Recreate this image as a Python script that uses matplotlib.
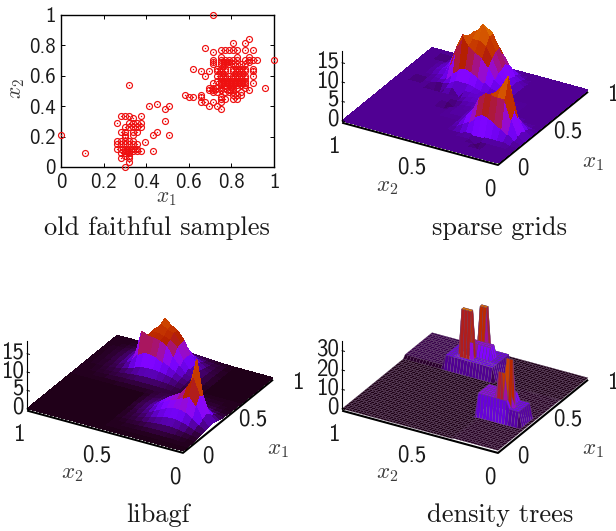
import numpy as np
import matplotlib
matplotlib.use("Agg")
import matplotlib.pyplot as plt
from mpl_toolkits.mplot3d import proj3d

plt.rcParams['mathtext.fontset'] = 'cm'

# ---------- data: scatter rows (x2 value, x1 values) ----------
LOWER_ROWS = [
    (.338, [.281, .301, .320, .376]), (.322, [.339]),
    (.292, [.262, .320, .339, .357, .376]), (.261, [.301, .320, .339, .357, .376]),
    (.228, [.281, .301, .339, .357]), (.213, [.301, .339]), (.197, [.301]),
    (.169, [.262, .281, .301, .320, .339]), (.151, [.262, .281, .301, .320, .339, .357]),
    (.121, [.262, .281, .301, .320, .339, .357]), (.105, [.301, .320, .339, .357, .376]),
    (.090, [.281, .301, .320]), (.075, [.301, .320]), (.057, [.281, .320]), (.031, [.320]),
    (.000, [.301]),
]
UPPER_ROWS = [
    (1.0, [.714]), (.844, [.883]), (.816, [.808, .864]), (.783, [.677]),
    (.768, [.752, .771, .789, .808, .827, .864, .902]), (.754, [.714]),
    (.721, [.752, .827, .883]), (.706, [.714, .752, .771, .789, .808, .827, .864, .883, .902, .920, .998]),
    (.691, [.714, .752, .771, .789, .883]), (.675, [.714, .752, .771, .789, .808, .827, .846, .864]),
    (.645, [.621, .733, .752, .771, .808, .827, .846, .864, .902]),
    (.629, [.658, .696, .733, .752, .771, .808, .827, .846, .864, .902]),
    (.599, [.677, .733, .752, .771, .789, .808, .827, .846, .864, .902]),
    (.583, [.752, .771, .808, .827, .846, .864]),
    (.568, [.733, .752, .771, .789, .808, .827, .846, .864]),
    (.553, [.714, .752, .771, .789, .808, .827, .846, .864, .902]),
    (.537, [.752, .771, .789, .808, .827, .846, .864]),
    (.522, [.696, .714, .733, .752, .771, .808, .827, .864, .958]),
    (.507, [.696, .714, .752, .789, .808, .883]),
    (.491, [.714, .733, .771, .789, .808, .846]),
    (.476, [.583, .658, .808, .827, .846]), (.461, [.602, .621, .658, .752]),
    (.445, [.752, .771, .808, .827]), (.430, [.658, .677, .714, .752]),
    (.399, [.696, .733]), (.384, [.752]),
]
ISOLATED_X1 = [.000, .112, .320, .414, .451, .489, .508, .489, .433, .451, .508, .395, .433]
ISOLATED_X2 = [.213, .090, .537, .399, .412, .384, .399, .305, .213, .228, .213, .167, .105]

SCATTER_TICKS = [0, .2, .4, .6, .8, 1]
SCATTER_TICK_LABELS = ['0', '0.2', '0.4', '0.6', '0.8', '1']
TITLES = ['old faithful samples', 'sparse grids', 'libagf', 'density trees']

# ---------- data: surfaces on a 0.04 grid (rows x1, columns x2) ----------
SG_PEAK1 = [  # x1 .60-.96, x2 .36-.84
    [0, 0, .5, .5, 1, 1, 1, 1, .5, .5, 0, 0, 0],
    [0, .5, 1, 1, 1.5, 2, 2, 2, 1, .5, .5, 0, 0],
    [.5, 1, 1.5, 2.5, 3.5, 4.5, 5, 4.5, 3, 1, .5, .5, 0],
    [1, 1.5, 3, 6, 8, 9, 10, 12.5, 9, 4, 1, .5, 0],
    [1, 2, 4, 7.5, 10, 11, 11, 11.5, 10, 6, 2, 1, .5],
    [1, 2, 4.5, 8.5, 12, 14.5, 12, 11, 10, 6.5, 3, 1, .5],
    [1, 2, 5, 8.5, 12, 13, 12, 11, 9, 5.5, 3, 1, .5],
    [.5, 1.5, 4, 6.5, 9, 10, 9, 8, 6, 4, 2, 1, 0],
    [0, 1, 2, 3, 4.5, 5, 5, 4.5, 3, 2, 1, 0, 0],
    [0, 0, .5, 1, 1, 2, 2, 2, 1, .5, 0, 0, 0],
]
SG_PEAK2 = [  # x1 .16-.48, x2 0-.40
    [0, 0, 0, 0, 0, 0, 0, 0, 0, 0, 0],
    [0, 0, .5, .5, .5, .5, .5, .5, .5, 0, 0],
    [0, .5, 2, 3, 4, 5, 5.5, 4.5, 2.5, 1.5, .5],
    [0, 1, 5, 10, 10, 10, 10, 8.5, 5, 3, 1],
    [0, 1.5, 7, 15, 12, 10, 9, 7.5, 5, 3, 1],
    [0, 1, 4, 10, 9, 7, 6, 4.5, 3, 2, 1],
    [0, .5, 2, 3, 4, 3, 2, 2, 2, 1, 1],
    [0, 0, .5, 1, 1, 2, 1, 1, 1, 1, .5],
    [0, 0, 0, 0, 1, 1, 1, 1, 1, .5, 0],
]
SG_MID = [  # x1 .36-.64, x2 .24-.52: faint ridge between the two modes
    [.5, .5, .5, .3, .2, .2, .2, .2],
    [.8, .8, .8, .5, .3, .2, .2, .2],
    [.8, 1, 1, .8, .5, .3, .2, .2],
    [.5, .8, 1, 1, .8, .5, .3, .2],
    [.3, .5, .8, 1, 1, .8, .5, .5],
    [.2, .3, .5, .8, 1, 1, 1, .8],
    [.2, .2, .3, .5, .8, 1, 1, 1],
    [.2, .2, .2, .3, .5, 1, 1, 1],
]
SG_DIPS_X1 = [.64, .60, .60, .48, .12, .60, .44, .16, .92]
SG_DIPS_X2 = [.88, .76, .60, .56, .20, .72, .60, .24, .88]
SG_DIPS_Z = [-1.4, -1.4, -1.2, -1.2, -1.2, -1.2, -1.0, -1.0, -1.2]

LA_PEAK1 = [  # x1 .52-1, x2 .28-.96
    [.1, .1, .2, .2, .3, .3, .3, .3, .3, .3, .3, .2, .2, .2, .1, .1, .1, .1],
    [.2, .2, .3, .4, .5, .6, .6, .6, .6, .6, .5, .5, .4, .3, .2, .2, .1, .1],
    [.2, .3, .5, .7, 1, 1.2, 1.3, 1.3, 1.3, 1.2, 1, .8, .6, .4, .3, .2, .1, .1],
    [.3, .4, .7, 1.2, 1.8, 2.2, 2.6, 2.8, 2.8, 2.6, 2, 1.4, .9, .6, .4, .2, .2, .1],
    [.3, .5, 1, 1.6, 2.6, 3.6, 4.5, 5.5, 6, 6, 5, 2.8, 1.5, .9, .5, .3, .2, .1],
    [.4, .6, 1.1, 2, 3.6, 5.5, 8, 9, 9.5, 9.5, 10.5, 4, 1.9, 1, .6, .3, .2, .1],
    [.4, .7, 1.2, 2.4, 4.5, 7.5, 9, 9.5, 10, 10, 8, 4, 2, 1.1, .7, .4, .2, .1],
    [.4, .7, 1.3, 2.6, 4.8, 8, 10, 10.5, 11.5, 10, 7.5, 3.8, 2, 1.1, .7, .4, .2, .1],
    [.4, .6, 1.2, 2.4, 4.5, 8, 10, 11, 12.5, 9.5, 7, 3.5, 1.9, 1, .6, .3, .2, .1],
    [.3, .5, .9, 1.8, 3.2, 5, 6.5, 7.5, 7.5, 6.5, 4.5, 2.5, 1.4, .8, .5, .3, .2, .1],
    [.2, .4, .6, 1.1, 1.8, 2.6, 3.2, 3.6, 3.6, 3.2, 2.3, 1.4, .8, .5, .3, .2, .1, .1],
    [.2, .3, .4, .6, .9, 1.2, 1.5, 1.6, 1.6, 1.4, 1.1, .7, .5, .3, .2, .1, .1, .1],
    [.1, .1, .2, .3, .4, .5, .6, .7, .7, .6, .5, .4, .3, .2, .1, .1, .1, .1],
]
LA_PEAK2 = [  # x1 .08-.60, x2 0-.48
    [.1, .1, .1, .2, .2, .2, .2, .2, .2, .1, .1, .1, .1],
    [.1, .2, .3, .4, .5, .5, .5, .5, .4, .3, .2, .2, .1],
    [.2, .4, .7, 1, 1.2, 1.3, 1.2, 1.1, .9, .6, .4, .3, .2],
    [.4, .9, 1.6, 2.2, 2.6, 2.6, 2.4, 2, 1.5, 1, .6, .4, .3],
    [.7, 1.6, 3, 4, 4.5, 4.5, 4, 3.2, 2.3, 1.4, .8, .5, .3],
    [1, 2.6, 6, 8, 7, 6, 5.5, 4.5, 3.2, 2, 1.1, .7, .4],
    [1.1, 3.2, 8, 12, 9, 7, 6, 5, 3.6, 2.2, 1.3, .8, .5],
    [.9, 2.6, 7, 16.5, 9, 6.5, 5, 4, 3, 2, 1.2, .8, .5],
    [.5, 1.4, 3, 6, 4.5, 3.5, 3, 2.6, 2.1, 1.5, 1, .7, .4],
    [.3, .7, 1.2, 1.8, 2.1, 2, 1.8, 1.6, 1.4, 1.1, .8, .6, .4],
    [.2, .3, .5, .8, .9, 1, 1, 1, .9, .8, .6, .5, .3],
    [.1, .2, .3, .4, .4, .5, .6, .6, .6, .6, .5, .4, .3],
    [.1, .1, .2, .2, .3, .3, .4, .4, .4, .4, .4, .3, .3],
    [.1, .1, .1, .1, .2, .2, .2, .3, .3, .3, .3, .2, .2],
]
# density tree leaves, painted in order: x1 from, x1 to, x2 from, x2 to, density
DT_LO1 = [.69, .00, .69, .30, .30, .73, .82, .77, .33, .31]
DT_HI1 = [1.0, .69, .88, .43, .43, .77, .86, .82, .35, .33]
DT_LO2 = [.74, .00, .44, .10, .04, .60, .56, .50, .10, .14]
DT_HI2 = [1.0, .28, .74, .30, .10, .66, .60, .66, .14, .18]
DT_VAL = [1.5, .3, 7, 12, 8, 31, 30, 13, 32, 25]

TICKS_3D = [0, .5, 1]
TICK_LABELS_3D = ['0', '0.5', '1']
SG_ZTICKS = [0, 5, 10, 15]
LA_ZTICKS = [0, 5, 10, 15]
DT_ZTICKS = [0, 10, 20, 30]

W, H = 616, 531
fig = plt.figure(figsize=(W / 100, H / 100), dpi=100)
TICK_FS = 15
TICK3_FS = 16.5
TITLE_FS = 19
LABEL_FS = 16.5
TXT = '#1a1a1a'
LAB = '#3a3a3a'


def fx(px):
    return px / W


def fy(py):
    return 1 - py / H


# ---------- scatter ----------
ax = fig.add_axes([fx(61), fy(167), (274 - 61) / W, (167 - 15) / H])
sx = [x for y, xs in LOWER_ROWS + UPPER_ROWS for x in xs] + ISOLATED_X1
sy = [y for y, xs in LOWER_ROWS + UPPER_ROWS for x in xs] + ISOLATED_X2
ax.plot(sx, sy, 'o', ms=4.3, mfc='none', mec='#ee1010', mew=.85, clip_on=False, zorder=3)
ax.plot(sx, sy, 'o', ms=1.0, mfc='#ee1010', mec='none', clip_on=False, zorder=3)
ax.set_xlim(0, 1)
ax.set_ylim(0, 1)
ax.set_xticks(SCATTER_TICKS, SCATTER_TICK_LABELS, family='cmss10', fontsize=TICK_FS, color=TXT)
ax.set_yticks(SCATTER_TICKS, SCATTER_TICK_LABELS, family='cmss10', fontsize=TICK_FS, color=TXT)
ax.tick_params(direction='in', length=3, width=.7, top=True, right=True, pad=4)
for s in ax.spines.values():
    s.set_linewidth(1.0)
fig.text(fx(166), fy(198), r'$x_1$', fontsize=15.5, ha='center', va='center', color=LAB)
fig.text(fx(17), fy(88), r'$x_2$', fontsize=15.5, ha='center', va='center', rotation=90, color=LAB)
fig.text(fx(157), fy(228), TITLES[0], family='cmr10', fontsize=TITLE_FS, ha='center', va='center', color=TXT)

# ---------- surfaces ----------
grid = np.round(np.arange(26) * .04, 2)


def paint(Z, patch, x1start, x2start):
    patch = np.asarray(patch, float)
    i, j = int(round(x1start / .04)), int(round(x2start / .04))
    Z[i:i + patch.shape[0], j:j + patch.shape[1]] = np.maximum(Z[i:i + patch.shape[0], j:j + patch.shape[1]], patch)


Z_sg = np.zeros((26, 26))
paint(Z_sg, SG_MID, .36, .24)
paint(Z_sg, SG_PEAK1, .60, .36)
paint(Z_sg, SG_PEAK2, .16, 0)
for a, b, c in zip(SG_DIPS_X1, SG_DIPS_X2, SG_DIPS_Z):
    Z_sg[int(round(a / .04)), int(round(b / .04))] = c

Z_la = np.full((26, 26), .05)
paint(Z_la, LA_PEAK1, .52, .28)
paint(Z_la, LA_PEAK2, .08, 0)

grid_dt = np.round(np.arange(51) * .02, 2)
Z_dt = np.zeros((51, 51))
for a, b, c, d, v in zip(DT_LO1, DT_HI1, DT_LO2, DT_HI2, DT_VAL):
    Z_dt[np.ix_((grid_dt >= a) & (grid_dt <= b), (grid_dt >= c) & (grid_dt <= d))] = v


def panel(g, Z, front, zmax, aspect, vmin, vmax, zticks, title, tpos, edge=None, zb=-.5):
    ax = fig.add_axes([.0, .0, .5, .5], projection='3d', proj_type='ortho')
    ax.view_init(elev=28, azim=210)
    ax.set_box_aspect((1, 1, aspect))
    ax.set_xlim(0, 1)
    ax.set_ylim(0, 1)
    ax.set_zlim(0, zmax)
    ax.set_axis_off()
    ax.patch.set_alpha(0)
    ax.computed_zorder = False

    def px(x, y, z):
        ax.apply_aspect()
        a, b, _ = proj3d.proj_transform(x, y, z, ax.get_proj())
        return ax.transData.transform((a, b))

    # scale and place so the x1=x2=0 corner lands on the reference spot
    d = px(0, 1, 0) - px(0, 0, 0)
    s = abs(d[0]) / np.cos(np.radians(30))
    ax.set_box_aspect((1, 1, aspect), zoom=180 / s)
    p = px(0, 0, 0)
    pos = ax.get_position().bounds
    ax.set_position([pos[0] + (front[0] - p[0]) / W, pos[1] + ((H - front[1]) - p[1]) / H, pos[2], pos[3]])

    def label(x, y, z, text, **kw):
        q = px(x, y, z)
        fig.text(q[0] / W, q[1] / H, text, family='cmss10', fontsize=TICK3_FS, va='center', color=TXT, **kw)

    X, Y = np.meshgrid(g, g, indexing='ij')
    ax.plot([0, 0, 1], [1, 0, 0], [zb, zb, zb], color='black', lw=1.5, zorder=1, solid_capstyle='butt', clip_on=False)
    kw = dict(edgecolor=edge, linewidth=.2, antialiased=True) if edge else dict(linewidth=0, antialiased=False)
    surf = ax.plot_surface(X, Y, Z, rstride=1, cstride=1, cmap='gnuplot', vmin=vmin, vmax=vmax, shade=False, zorder=2, **kw)
    surf.set_clip_on(False)
    ax.plot([0, 0], [1, 1], [0, zmax], color='black', lw=.8, zorder=3, clip_on=False)
    for t in zticks:
        ax.plot([0, 0], [1, .985], [t, t], color='black', lw=.7, zorder=3, clip_on=False)
        label(0, 1.02, t, str(t), ha='right')
    for t, lab in zip(TICKS_3D, TICK_LABELS_3D):
        label(t + .012, -.15, 0, lab, ha='center')
        label(-.29, t - .116, 0, lab, ha='center')
    fig.text(fx(front[0] + 95), fy(front[1] - 2), r'$x_1$', fontsize=LABEL_FS, ha='center', va='center', color=LAB)
    fig.text(fx(front[0] - 111), fy(front[1] + 22), r'$x_2$', fontsize=LABEL_FS, ha='center', va='center', color=LAB)
    fig.text(fx(tpos[0]), fy(tpos[1]), title, family='cmr10', fontsize=TITLE_FS, ha='center', va='center', color=TXT)


panel(grid, Z_sg, (498, 163), 18, .438, -2, 18, SG_ZTICKS, TITLES[1], (500, 228))
panel(grid, Z_la, (183, 451), 18.5, .427, -.3, 18, LA_ZTICKS, TITLES[2], (158, 515))
panel(grid_dt, Z_dt, (498, 451), 35, .426, -.5, 40, DT_ZTICKS, TITLES[3], (500, 515), edge='#66466c', zb=-1)

fig.savefig('out.png', dpi=100)
